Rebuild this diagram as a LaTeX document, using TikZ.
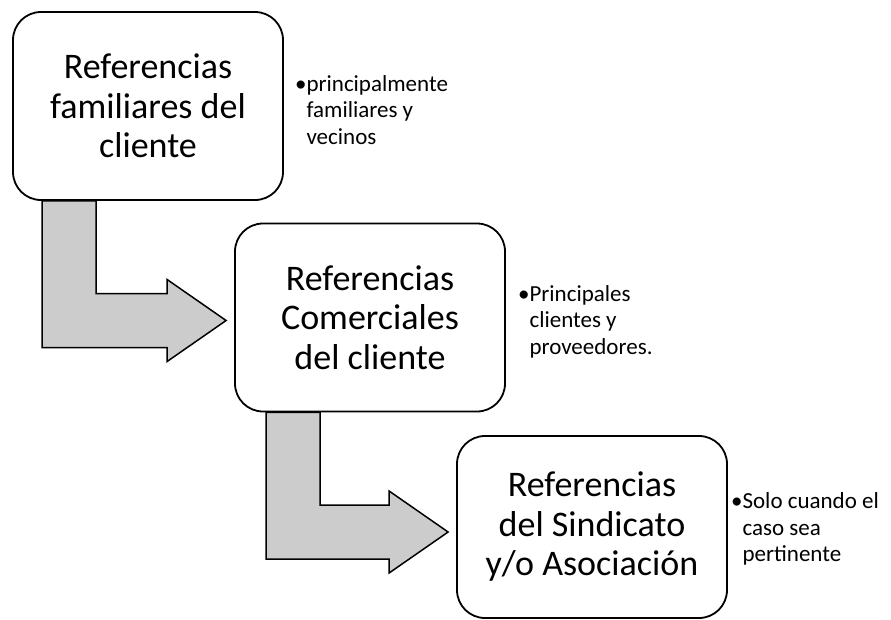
\documentclass[tikz,border=0pt]{standalone}
\usepackage{fontspec}
\setmainfont{Carlito}
\usetikzlibrary{positioning, calc, backgrounds}

\begin{document}
\begin{tikzpicture}[
    x=1pt, y=-1pt,
    box/.style={rectangle, draw=black, fill=white, line width=1.8pt,
                minimum width=270pt, minimum height=188pt, align=center,
                rounded corners=28pt, font=\fontsize{36}{39.5}\selectfont},
    note/.style={inner sep=0pt, align=left, yshift=-4pt, font=\fontsize{23}{26.5}\selectfont},
    bent/.style={draw=black, fill=gray!40, line width=1.5pt, line join=miter}
]
    \path[use as bounding box, clip] (0,0) rectangle (891,619);

    \node[box] (familiares) at (148,106) {Referencias\\familiares del\\cliente};
    \node[box] (comerciales) at (370,317.5) {Referencias\\Comerciales\\del cliente};
    \node[box, minimum height=182pt] (sindicato) at (592,527) {Referencias\\del Sindicato\\y/o Asociación};

    \node[note, right=11pt of familiares] (nota1) {\textbullet principalmente\\\hphantom{\textbullet}familiares y\\\hphantom{\textbullet}vecinos};
    \node[note, right=12pt of comerciales] (nota2) {\textbullet Principales\\\hphantom{\textbullet}clientes y\\\hphantom{\textbullet}proveedores.};
    \node[note, right=3pt of sindicato, yshift=2pt] (nota3) {\textbullet Solo cuando el\\\hphantom{\textbullet}caso sea\\\hphantom{\textbullet}pertinente};

    % bent arrows behind the boxes
    \begin{scope}[on background layer]
        \coordinate (s1) at ($(familiares.south west)+(30,0)$);
        \coordinate (tip1) at ($(comerciales.west)+(-8,3)$);
        \draw[bent] (s1) -- ($(s1)+(54,0)$) |- ($(tip1)+(-59,-27)$) -- ($(tip1)+(-59,-41)$)
            -- (tip1) -- ($(tip1)+(-59,41)$) -- ($(tip1)+(-59,27)$) -| (s1) -- cycle;

        \coordinate (s2) at ($(comerciales.south west)+(32,0)$);
        \coordinate (tip2) at ($(sindicato.west)+(-8,5)$);
        \draw[bent] (s2) -- ($(s2)+(54,0)$) |- ($(tip2)+(-59,-27)$) -- ($(tip2)+(-59,-41)$)
            -- (tip2) -- ($(tip2)+(-59,41)$) -- ($(tip2)+(-59,27)$) -| (s2) -- cycle;
    \end{scope}
\end{tikzpicture}
\end{document}
